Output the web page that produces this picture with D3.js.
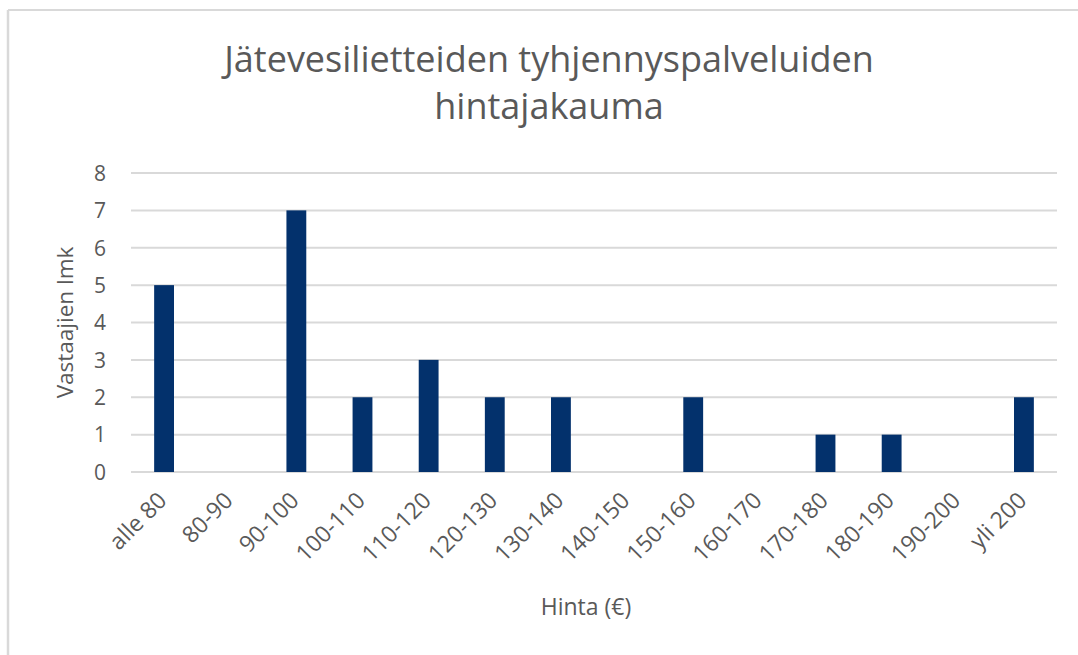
<!DOCTYPE html>
<html>
<head>
<meta charset="utf-8">
<script src="https://cdn.jsdelivr.net/npm/d3@7"></script>
<style>
  body { margin: 0; background: #fff; }
  text { font-family: "Open Sans", "Noto Sans", sans-serif; fill: #595959; }
</style>
</head>
<body>
<div id="chart"></div>
<script>
var categories = ["alle 80", "80-90", "90-100", "100-110", "110-120", "120-130", "130-140",
  "140-150", "150-160", "160-170", "170-180", "180-190", "190-200", "yli 200"];
var counts = [5, 0, 7, 2, 3, 2, 2, 0, 2, 0, 1, 1, 0, 2];
var yTicks = [0, 1, 2, 3, 4, 5, 6, 7, 8];
var titleLines = ["Jätevesilietteiden tyhjennyspalveluiden", "hintajakauma"];

var width = 1078, height = 655;
var margin = { left: 131, right: 21, top: 173, bottom: 183 };

var svg = d3.select("#chart").append("svg")
  .attr("width", width)
  .attr("height", height);

// chart frame (only top and left edges visible)
svg.append("line").attr("x1", 8).attr("x2", width).attr("y1", 10).attr("y2", 10)
  .attr("stroke", "#d9d9d9").attr("stroke-width", 2);
svg.append("line").attr("x1", 8).attr("x2", 8).attr("y1", 10).attr("y2", height)
  .attr("stroke", "#d9d9d9").attr("stroke-width", 2.5);

var x = d3.scaleBand()
  .domain(categories)
  .range([margin.left, width - margin.right])
  .paddingInner(0.7)
  .paddingOuter(0.35);

var y = d3.scaleLinear()
  .domain([0, 8])
  .range([height - margin.bottom, margin.top]);

// gridlines
svg.append("g").selectAll("line")
  .data(yTicks)
  .enter().append("line")
  .attr("x1", margin.left)
  .attr("x2", width - margin.right)
  .attr("y1", d => y(d))
  .attr("y2", d => y(d))
  .attr("stroke", "#d9d9d9")
  .attr("stroke-width", 2);

// y axis labels
var yAxis = d3.axisLeft(y).tickValues(yTicks).tickSize(0).tickPadding(0);
var gy = svg.append("g")
  .attr("transform", "translate(106,0)")
  .call(yAxis);
gy.select(".domain").remove();
gy.selectAll("text")
  .style("font-size", "21px")
  .attr("dy", "0.35em");

// bars
svg.append("g").selectAll("rect")
  .data(counts)
  .enter().append("rect")
  .attr("x", (d, i) => x(categories[i]))
  .attr("width", x.bandwidth())
  .attr("y", d => y(d))
  .attr("height", d => y(0) - y(d))
  .attr("fill", "#03316c");

// x axis labels
var xAxis = d3.axisBottom(x).tickSize(0).tickPadding(0);
var gx = svg.append("g")
  .attr("transform", "translate(0," + y(0) + ")")
  .call(xAxis);
gx.select(".domain").remove();
gx.selectAll("text")
  .style("font-size", "23px")
  .attr("text-anchor", "end")
  .attr("dy", null)
  .attr("y", 0)
  .attr("transform", "translate(4,30) rotate(-45)");

// title
svg.append("text")
  .attr("text-anchor", "middle")
  .style("font-size", "36px")
  .selectAll("tspan")
  .data(titleLines)
  .enter().append("tspan")
  .attr("x", 549)
  .attr("y", (d, i) => 72 + i * 47)
  .text(d => d);

// axis titles
svg.append("text")
  .attr("text-anchor", "middle")
  .style("font-size", "22.5px")
  .attr("transform", "translate(73," + (y(4)) + ") rotate(-90)")
  .text("Vastaajien lmk");

svg.append("text")
  .attr("text-anchor", "middle")
  .style("font-size", "23px")
  .attr("x", 586)
  .attr("y", 615)
  .text("Hinta (€)");
</script>
</body>
</html>
